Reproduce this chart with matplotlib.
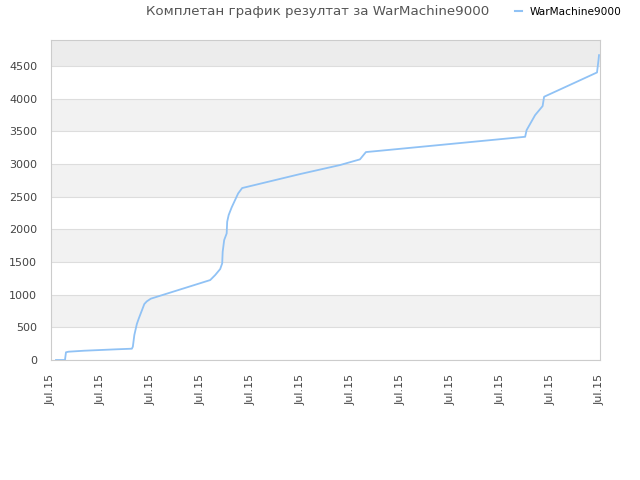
import matplotlib.pyplot as plt
from matplotlib.lines import Line2D

# trace of the cumulative score (x in tick units, 0..11)
x_vals = [0.10, 0.28, 0.30, 0.35, 0.66, 1.32, 1.62, 1.64, 1.67, 1.72, 1.76, 1.87, 1.92,
          2.00, 3.19, 3.29, 3.39, 3.43, 3.44, 3.47, 3.52, 3.53, 3.56, 3.62, 3.75, 3.83,
          4.99, 5.79, 6.19, 6.31, 6.59, 9.50, 9.53, 9.70, 9.85, 9.88, 10.20, 10.94,
          10.97, 10.98]
scores = [0, 0, 118, 127, 142, 164, 173, 204, 383, 551, 638, 857, 898,
          939, 1224, 1301, 1393, 1480, 1658, 1837, 1939, 2117, 2220, 2337, 2551, 2633,
          2847, 2985, 3072, 3184, 3204, 3418, 3521, 3750, 3888, 4031, 4143, 4403,
          4592, 4668]
tick_labels = ['Jul.15'] * 12
player = 'WarMachine9000'
title = 'Комплетан график резултат за WarMachine9000'

fig = plt.figure(figsize=(6.4, 4.8), dpi=100)
ax = fig.add_axes([51 / 640, 120 / 480, 549 / 640, 320 / 480])

ymax = 4900
# alternating background bands
for i, lo in enumerate(range(0, ymax, 500)):
    hi = min(lo + 500, ymax)
    if lo >= 4500:
        color = '#ececec'
    elif i % 2 == 1:
        color = '#f2f2f2'
    else:
        color = 'white'
    ax.axhspan(lo, hi, color=color, zorder=0, lw=0)

ax.plot(x_vals, scores, color='#90c2f5', lw=1.3, zorder=3)

ax.set_xlim(0, 11)
ax.set_ylim(0, ymax)
ax.set_yticks(range(0, 4501, 500))
ax.set_xticks(range(12))
ax.set_xticklabels(tick_labels, rotation=90)
ax.tick_params(axis='both', length=0, labelsize=8, colors='#444444')
ax.tick_params(axis='x', pad=10)
ax.tick_params(axis='y', pad=10)
ax.grid(axis='y', color='#dddddd', lw=0.8, zorder=1)
ax.set_axisbelow(True)
for s in ax.spines.values():
    s.set_color('#cccccc')

fig.text(0.497, 0.975, title, ha='center', va='center', fontsize=9.6, color='#555555')
handle = Line2D([], [], color='#90c2f5', lw=1.5)
fig.legend([handle], [player], loc='center left', bbox_to_anchor=(0.805, 0.975),
           frameon=False, handlelength=0.6, handletextpad=0.8, fontsize=7.6,
           borderpad=0, borderaxespad=0)

fig.savefig('out.png', dpi=100)
